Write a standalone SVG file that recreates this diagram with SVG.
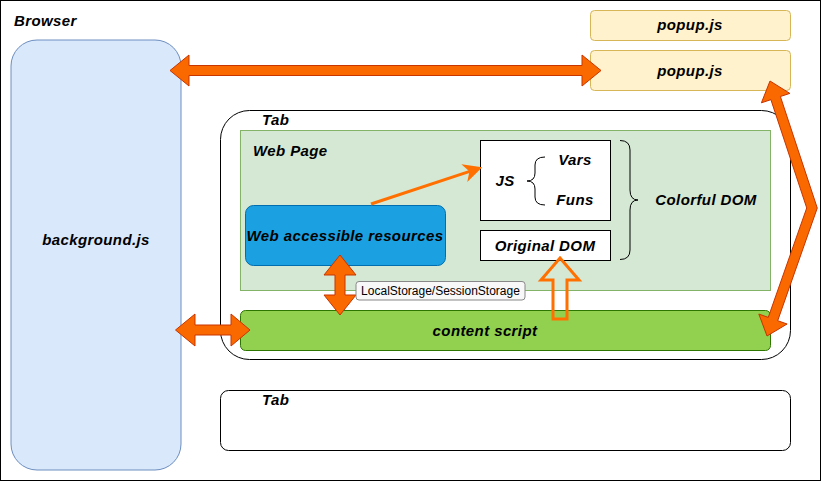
<svg xmlns="http://www.w3.org/2000/svg" width="821" height="481" viewBox="0 0 821 481">
<style>
.t{font-family:"Liberation Sans",Arial,sans-serif;font-weight:bold;font-style:italic;font-size:15px;letter-spacing:0.4px;fill:#000}
.c{text-anchor:middle}
.fa{fill:#fa6800;stroke:#c73500;stroke-width:1}
.pop{fill:#fff2cc;stroke:#d6b656;stroke-width:1}
.br{fill:none;stroke:#000;stroke-width:1}
</style>
<rect x="0" y="0" width="821" height="481" fill="#fff"/>
<g id="browser">
<rect x="0.5" y="0.5" width="820" height="480" fill="none" stroke="#000" stroke-width="1"/>
<text class="t" x="14" y="25.5">Browser</text>
</g>
<g id="background">
<rect x="11" y="40" width="170" height="430" rx="26" fill="#dae8fc" stroke="#6c8ebf"/>
<text class="t c" x="96" y="245">background.js</text>
</g>
<g id="popup1">
<rect class="pop" x="590.5" y="10.5" width="200" height="30" rx="4"/>
<text class="t c" x="690" y="30">popup.js</text>
</g>
<g id="popup2">
<rect class="pop" x="590.5" y="50.5" width="200" height="40" rx="4"/>
<text class="t c" x="690" y="76">popup.js</text>
</g>
<g id="tab1">
<rect x="220.5" y="110.5" width="570" height="249" rx="29" fill="#fff" stroke="#000"/>
<text class="t" x="262" y="125">Tab</text>
</g>
<g id="webpage">
<rect x="240.5" y="130.5" width="530" height="160" fill="#d5e8d4" stroke="#82b366"/>
<text class="t" x="253" y="156">Web Page</text>
</g>
<g id="js">
<rect x="480.5" y="140.5" width="130" height="80" fill="#fff" stroke="#000"/>
<text class="t c" x="505" y="186">JS</text>
<path class="br" d="M545,157 Q535,157 535,165 L535,173 Q535,181 527,181 Q535,181 535,189 L535,197 Q535,205 545,205"/>
<text class="t c" x="575" y="165">Vars</text>
<text class="t c" x="575" y="205">Funs</text>
</g>
<g id="originaldom">
<rect x="480.5" y="230.5" width="130" height="30" fill="#fff" stroke="#000"/>
<text class="t c" x="545" y="250.5">Original DOM</text>
</g>
<g id="colorfuldom">
<path class="br" d="M620,140.5 Q630,140.5 630,150 L630,190 Q630,200 638,200 Q630,200 630,210 L630,250 Q630,259.5 620,259.5"/>
<text class="t c" x="706" y="205">Colorful DOM</text>
</g>
<g id="webres">
<rect x="245.5" y="205.5" width="200" height="60" rx="8" fill="#1ba1e2" stroke="#006eaf"/>
<text class="t c" x="345" y="240.5">Web accessible resources</text>
</g>
<g id="contentscript">
<rect x="240.5" y="310.5" width="530" height="40" rx="5" fill="#92d050" stroke="#2d7600"/>
<text class="t c" x="485" y="335.5">content script</text>
</g>
<g id="tab2">
<rect x="220.5" y="390.5" width="570" height="60" rx="8" fill="#fff" stroke="#000"/>
<text class="t" x="262" y="405">Tab</text>
</g>
<g id="connectors">
<polygon class="fa" points="170,70.5 189,55 189,65.5 582,65.5 582,55 601,70.5 582,86 582,75.5 189,75.5 189,86"/>
<polygon class="fa" points="175.5,330 195,314 195,325 231,325 231,314 250,330 231,346 231,335 195,335 195,346"/>
<polygon class="fa" points="340,255 356,275 345,275 345,295 356,295 340,315 324,295 335,295 335,275 324,275"/>
<polygon class="fa" points="770,81 761.41,102.8 770.9,99.66 806.72,207.95 768.25,317.36 758.82,314.04 767,336 787.12,323.99 777.69,320.68 817.28,208.05 780.4,96.52 789.89,93.38"/>
<polygon points="560,258 579,280 567,280 567,319 553,319 553,280 541,280" fill="none" stroke="#ff7000" stroke-width="3" stroke-linejoin="miter"/>
<line x1="371" y1="204" x2="470.5" y2="171.1" stroke="#ff7000" stroke-width="3"/>
<polygon points="480,168 468.9,179.04 470.5,171.1 464.5,165.74" fill="#ff7000" stroke="#ff7000" stroke-width="2" stroke-linejoin="miter"/>
<g id="storagelabel">
<rect x="356" y="281.5" width="169" height="18.5" rx="3" fill="#f8f8f8" stroke="#888"/>
<text x="440.5" y="295" text-anchor="middle" font-family="'Liberation Sans',Arial,sans-serif" font-size="12px" fill="#000">LocalStorage/SessionStorage</text>
</g>
</g>
</svg>
